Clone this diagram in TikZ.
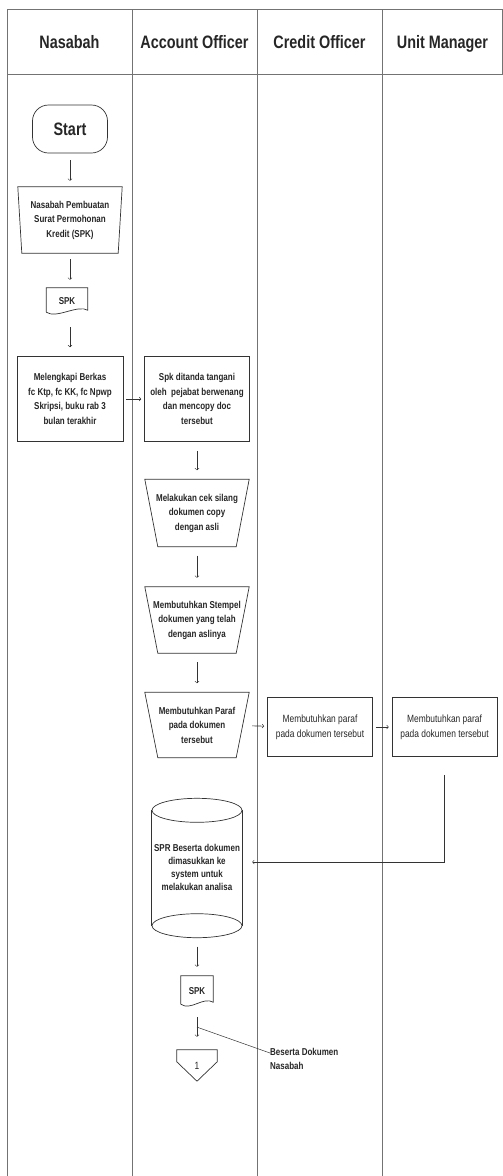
\documentclass[tikz,border=0pt]{standalone}
\usepackage{fontspec}
\setmainfont{Liberation Sans}[FakeStretch=0.8]
\usepackage{xcolor}
\usepackage{tikz}

\newcommand{\fhead}{\fontsize{18}{20}\selectfont\bfseries}
\newcommand{\fbody}{\fontsize{10}{14.5}\selectfont\bfseries}
\newcommand{\fthin}{\fontsize{10.5}{15}\selectfont}

\begin{document}
\begin{tikzpicture}[x=1pt,y=-1pt]
  \tikzset{ ln/.style={draw=black!80,line width=0.7pt},
    grid/.style={draw=black!55,line width=0.8pt},
    hd/.style={font=\fhead,text=black!85,anchor=base},
    box/.style={rectangle,inner sep=0pt,align=center,font=\fbody,text=black!85},
    ar/.style={->,draw=black!80,line width=0.6pt,shorten <=9pt,shorten >=9pt},
    har/.style={->,draw=black!80,line width=0.6pt,shorten <=3pt,shorten >=3pt},
  }
  \useasboundingbox (0,0) rectangle (503,1176);

  % swimlanes
  \draw[grid] (7,9) -- (503,9) (7,74) -- (503,74) (502,9) -- (502,74);
  \foreach \x in {7,132,257,382}
    \draw[grid] (\x,9) -- (\x,1176);
  \node[hd] (h1) at (69.5,48.5) {Nasabah};
  \node[hd] (h2) at (194.5,48.5) {Account Officer};
  \node[hd] (h3) at (319.5,48.5) {Credit Officer};
  \node[hd] (h4) at (442.5,48.5) {Unit Manager};

  % Nasabah
  \node[box,draw=black!80,line width=0.7pt,rounded corners=16pt,minimum width=75pt,minimum height=48pt,font=\fontsize{18}{20}\selectfont\bfseries] (start) at (70,129) {Start};
  \node[box,minimum width=104pt,minimum height=66pt] (in1) at (70,220) {Nasabah Pembuatan\\Surat Permohonan\\Kredit (SPK)};
  \node[box,minimum width=41pt,minimum height=26pt] (spk1) at (67,301) {SPK};
  \node[box,draw=black!80,line width=0.7pt,minimum width=106pt,minimum height=85pt] (b1) at (70,399) {Melengkapi Berkas\\fc Ktp, fc KK, fc Npwp\\Skripsi, buku rab 3\\bulan terakhir};

  % Account Officer
  \node[box,draw=black!80,line width=0.7pt,minimum width=105pt,minimum height=85pt] (b2) at (197,399) {Spk ditanda tangani\\oleh~ pejabat berwenang\\dan mencopy doc\\tersebut};
  \node[box,minimum width=104pt,minimum height=67pt] (t2) at (197,513) {Melakukan cek silang\\dokumen copy\\dengan asli};
  \node[box,minimum width=104pt,minimum height=66pt] (t3) at (197,620) {Membutuhkan Stempel\\dokumen yang telah\\dengan aslinya};
  \node[box,minimum width=104pt,minimum height=65pt] (t4) at (197,725) {Membutuhkan Paraf\\pada dokumen\\tersebut};
  \node[box,minimum width=90pt,minimum height=139pt] (cyl) at (197,868) {\raisebox{-4pt}{\begin{tabular}{@{}c@{}}SPR Beserta dokumen\\[-1.5pt]dimasukkan ke\\[-1.5pt]system untuk\\[-1.5pt]melakukan analisa\end{tabular}}};
  \node[box,minimum width=32pt,minimum height=30pt] (spk2) at (197,991) {SPK};
  \node[box,minimum width=40pt,minimum height=31pt,font=\fthin] (off) at (197,1065.5) {1};
  \node[box,anchor=west,align=left] (nt) at (270,1059) {Beserta Dokumen\\Nasabah};

  % Credit Officer and Unit Manager
  \node[box,draw=black!80,line width=0.7pt,minimum width=105pt,minimum height=59pt,font=\fthin] (co) at (320,727) {Membutuhkan paraf\\pada dokumen tersebut};
  \node[box,draw=black!80,line width=0.7pt,minimum width=105pt,minimum height=59pt,font=\fthin] (um) at (444.5,727) {Membutuhkan paraf\\pada dokumen tersebut};

  % shapes round the texts
  \foreach \n/\d in {in1/4,t2/13,t3/13,t4/13}
    \draw[ln] (\n.north west) -- (\n.north east) -- ([xshift=-\d pt]\n.south east) -- ([xshift=\d pt]\n.south west) -- cycle;
  \foreach \n in {spk1,spk2}
    \draw[ln] ([yshift=2pt]\n.south west) -- (\n.north west) -- (\n.north east) -- ([yshift=4pt]\n.south east)
      .. controls ([xshift=-10pt,yshift=10pt]\n.south east) and ([xshift=10pt,yshift=-5pt]\n.south west) .. ([yshift=2pt]\n.south west);
  \draw[ln] ([yshift=-12pt]cyl.north west) -- ([yshift=12pt]cyl.south west)
    ([yshift=-12pt]cyl.north east) -- ([yshift=12pt]cyl.south east);
  \draw[ln] ([yshift=-12pt]cyl.north) ellipse[x radius=45pt,y radius=12pt]
    ([yshift=12pt]cyl.south) ellipse[x radius=45pt,y radius=12pt];
  \draw[ln] (off.north west) -- (off.north east) -- ([yshift=-12pt]off.north east) -- (off.south) -- ([yshift=-12pt]off.north west) -- cycle;

  % the flow between the steps
  \draw[ar,shorten <=7pt,shorten >=6pt] (start) -- (in1);
  \draw[ar,shorten <=6pt,shorten >=8pt] (in1.south |- in1.south) -- (in1.south |- spk1.north);
  \draw[ar,shorten <=13pt] (b1.north |- spk1.south) -- (b1);
  \draw[har] (b1) -- (b2);
  \draw[ar] (b2) -- (t2);
  \draw[ar] (t2) -- (t3);
  \draw[ar] (t3) -- (t4);
  \draw[har] (t4) -- (co);
  \draw[har] (co) -- (um);
  \draw[ar,shorten <=18pt,shorten >=10pt] (um.south) |- ([yshift=6pt]cyl.east);
  \draw[ar] (cyl) -- (spk2);
  \draw[ar,shorten <=11pt,shorten >=13pt] (spk2) -- coordinate[pos=0.48] (m1) (off);
  \draw[ln,line width=0.5pt] (m1) -- ([yshift=6pt]nt.west);
\end{tikzpicture}
\end{document}
